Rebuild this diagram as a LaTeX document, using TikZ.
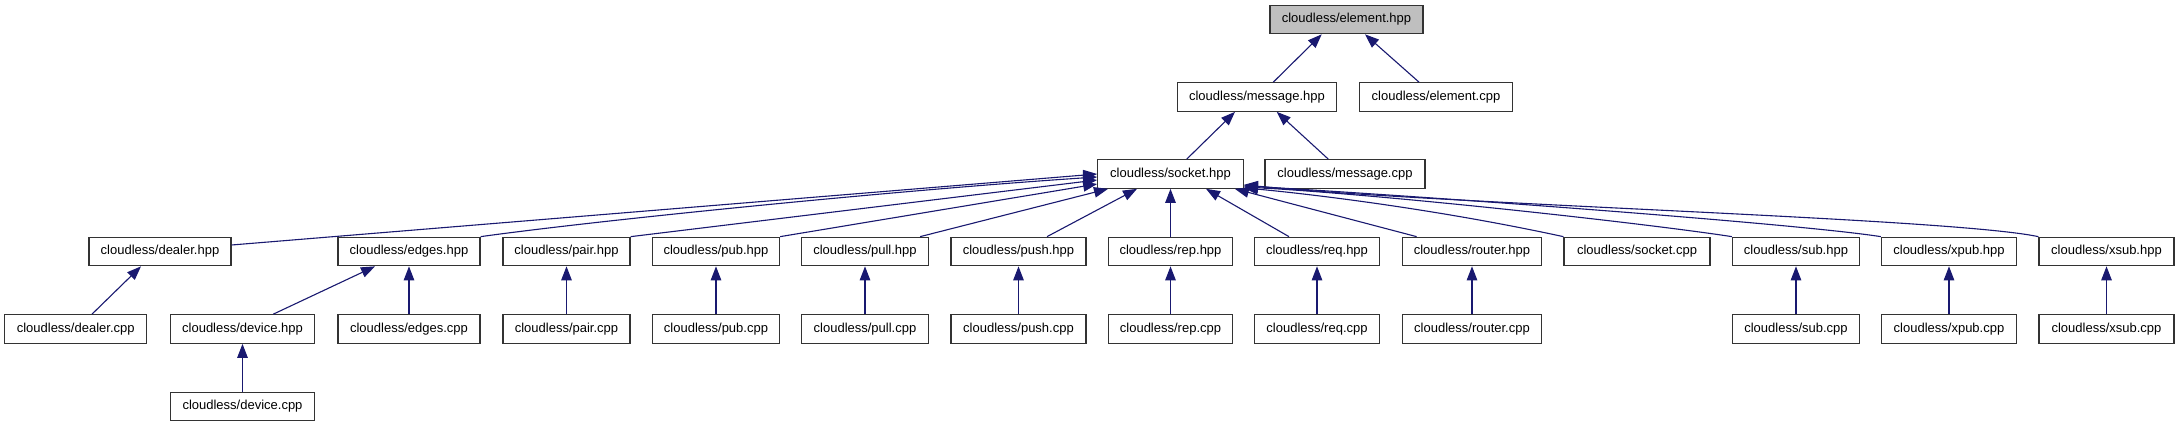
\documentclass[tikz,border=0pt]{standalone}
\usepackage{fontspec}
\setmainfont{Liberation Sans}
\usetikzlibrary{arrows.meta}
\definecolor{edgeblue}{HTML}{191970}
\definecolor{rootgray}{HTML}{BFBFBF}
\definecolor{boxborder}{HTML}{333333}
\tikzset{
  file/.style={draw=boxborder, line width=1.2pt, fill=white, minimum height=28.5pt,
    inner sep=0pt, font=\fontsize{13}{15}\selectfont},
  root/.style={file, fill=rootgray},
  dep/.style={draw=edgeblue, line width=1.1pt,
    -{Triangle[length=14pt,width=10.5pt]}}
}
\begin{document}
\begin{tikzpicture}[x=1pt,y=-1pt]
\useasboundingbox (0,0) rectangle (2179,427);
\fill[white] (0,0) rectangle (2179,427);
% row 1
\node[root, minimum width=153pt] (elementhpp) at (1346.5,19.5) {cloudless/element.hpp};
% row 2
\node[file, minimum width=158.5pt] (messagehpp) at (1257,97) {cloudless/message.hpp};
\node[file, minimum width=153.5pt] (elementcpp) at (1436,97) {cloudless/element.cpp};
% row 3
\node[file, minimum width=145.5pt] (sockethpp) at (1170.5,174) {cloudless/socket.hpp};
\node[file, minimum width=160pt] (messagecpp) at (1345,174) {cloudless/message.cpp};
% row 4
\node[file, minimum width=142pt] (dealerhpp) at (160,251.5) {cloudless/dealer.hpp};
\node[file, minimum width=142pt] (edgeshpp) at (409,251.5) {cloudless/edges.hpp};
\node[file, minimum width=127pt] (pairhpp) at (566.5,251.5) {cloudless/pair.hpp};
\node[file, minimum width=127pt] (pubhpp) at (716,251.5) {cloudless/pub.hpp};
\node[file, minimum width=127pt] (pullhpp) at (865,251.5) {cloudless/pull.hpp};
\node[file, minimum width=135pt] (pushhpp) at (1018.5,251.5) {cloudless/push.hpp};
\node[file, minimum width=124.5pt] (rephpp) at (1170.5,251.5) {cloudless/rep.hpp};
\node[file, minimum width=124.5pt] (reqhpp) at (1317,251.5) {cloudless/req.hpp};
\node[file, minimum width=139pt] (routerhpp) at (1472,251.5) {cloudless/router.hpp};
\node[file, minimum width=146pt] (socketcpp) at (1637,251.5) {cloudless/socket.cpp};
\node[file, minimum width=127pt] (subhpp) at (1796,251.5) {cloudless/sub.hpp};
\node[file, minimum width=135pt] (xpubhpp) at (1949,251.5) {cloudless/xpub.hpp};
\node[file, minimum width=135pt] (xsubhpp) at (2106.5,251.5) {cloudless/xsub.hpp};
% row 5
\node[file, minimum width=142pt] (dealercpp) at (75.7,329) {cloudless/dealer.cpp};
\node[file, minimum width=144.5pt] (devicehpp) at (242.5,329) {cloudless/device.hpp};
\node[file, minimum width=142pt] (edgescpp) at (409,329) {cloudless/edges.cpp};
\node[file, minimum width=127pt] (paircpp) at (566.5,329) {cloudless/pair.cpp};
\node[file, minimum width=127pt] (pubcpp) at (716,329) {cloudless/pub.cpp};
\node[file, minimum width=127pt] (pullcpp) at (865,329) {cloudless/pull.cpp};
\node[file, minimum width=135pt] (pushcpp) at (1018.5,329) {cloudless/push.cpp};
\node[file, minimum width=124.5pt] (repcpp) at (1170.5,329) {cloudless/rep.cpp};
\node[file, minimum width=124.5pt] (reqcpp) at (1317,329) {cloudless/req.cpp};
\node[file, minimum width=139pt] (routercpp) at (1472,329) {cloudless/router.cpp};
\node[file, minimum width=127pt] (subcpp) at (1796,329) {cloudless/sub.cpp};
\node[file, minimum width=135pt] (xpubcpp) at (1949,329) {cloudless/xpub.cpp};
\node[file, minimum width=135pt] (xsubcpp) at (2106.5,329) {cloudless/xsub.cpp};
% row 6
\node[file, minimum width=144.5pt] (devicecpp) at (242.5,406.5) {cloudless/device.cpp};

% edges upper part
\draw[dep] ([xshift=16.3pt]messagehpp.north) -- ([xshift=-24.8pt]elementhpp.south);
\draw[dep] ([xshift=-17pt]elementcpp.north) -- ([xshift=18.5pt]elementhpp.south);
\draw[dep] ([xshift=16.2pt]sockethpp.north) -- ([xshift=-22pt]messagehpp.south);
\draw[dep] ([xshift=-16.7pt]messagecpp.north) -- ([xshift=19.7pt]messagehpp.south);

% socket children
\draw[dep] ([yshift=6.5pt]dealerhpp.east) -- ([yshift=0pt]sockethpp.west);
\draw[dep] (edgeshpp.north east) .. controls (600,220) and (900,190) .. ([yshift=-3pt]sockethpp.west);
\draw[dep] (pairhpp.north east) -- ([yshift=-6pt]sockethpp.west);
\draw[dep] (pubhpp.north east) -- ([yshift=-10pt]sockethpp.west);
\draw[dep] ([xshift=-9pt]pullhpp.north east) -- ([xshift=-62.5pt]sockethpp.south);
\draw[dep] ([xshift=28.5pt]pushhpp.north) -- ([xshift=-33.5pt]sockethpp.south);
\draw[dep] (rephpp.north) -- (sockethpp.south);
\draw[dep] ([xshift=-28pt]reqhpp.north) -- ([xshift=35.5pt]sockethpp.south);
\draw[dep] ([xshift=14.7pt]routerhpp.north west) -- ([xshift=-9pt]sockethpp.south east);
\draw[dep] (socketcpp.north west) .. controls (1450,212) and (1330,196) .. ([yshift=1pt]sockethpp.south east);
\draw[dep] (subhpp.north west) .. controls (1650,224) and (1400,196) .. ([yshift=2pt]sockethpp.south east);
\draw[dep] (xpubhpp.north west) .. controls (1800,224) and (1450,198) .. ([yshift=3pt]sockethpp.south east);
\draw[dep] (xsubhpp.north west) .. controls (1950,218) and (1450,205) .. ([yshift=4pt]sockethpp.south east);

% lower part
\draw[dep] ([xshift=16.3pt]dealercpp.north) -- ([xshift=-19pt]dealerhpp.south);
\draw[dep] ([xshift=30.8pt]devicehpp.north) -- ([xshift=-34pt]edgeshpp.south);
\draw[dep] (edgescpp.north) -- (edgeshpp.south);
\draw[dep] (devicecpp.north) -- (devicehpp.south);
\draw[dep] (paircpp.north) -- (pairhpp.south);
\draw[dep] (pubcpp.north) -- (pubhpp.south);
\draw[dep] (pullcpp.north) -- (pullhpp.south);
\draw[dep] (pushcpp.north) -- (pushhpp.south);
\draw[dep] (repcpp.north) -- (rephpp.south);
\draw[dep] (reqcpp.north) -- (reqhpp.south);
\draw[dep] (routercpp.north) -- (routerhpp.south);
\draw[dep] (subcpp.north) -- (subhpp.south);
\draw[dep] (xpubcpp.north) -- (xpubhpp.south);
\draw[dep] (xsubcpp.north) -- (xsubhpp.south);
\end{tikzpicture}
\end{document}
